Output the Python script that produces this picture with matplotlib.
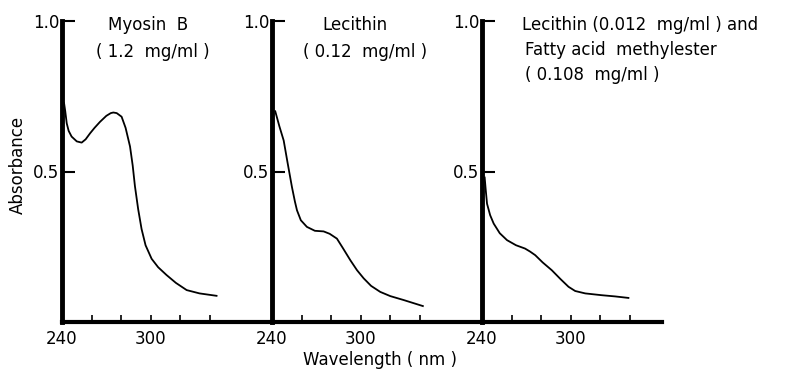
import matplotlib.pyplot as plt

# wavelength (nm) / absorbance
wl_myosin = [241.4, 242.2, 243.2, 244.5, 246.5, 250.0, 253.3, 256.0, 259.0, 262.0, 265.7, 270.0, 273.0, 274.7, 277.0, 280.3,
             283.0, 286.0, 287.8, 289.3, 291.5, 293.8, 296.5, 300.6, 305.0, 310.7, 317.0, 324.3, 333.0, 344.5]
abs_myosin = [0.727, 0.700, 0.660, 0.635, 0.616, 0.600, 0.596, 0.607, 0.627, 0.645, 0.665, 0.685, 0.694, 0.696, 0.694, 0.682,
              0.645, 0.583, 0.520, 0.452, 0.375, 0.309, 0.255, 0.210, 0.182, 0.156, 0.130, 0.106, 0.095, 0.087]

wl_lecithin = [242.2, 245.0, 247.9, 250.5, 253.5, 255.5, 256.9, 259.5, 263.6, 269.0, 274.9, 279.0, 283.9, 288.0, 293.0,
               297.5, 302.0, 307.0, 313.2, 320.0, 329.0, 342.0]
abs_lecithin = [0.700, 0.650, 0.603, 0.530, 0.448, 0.400, 0.371, 0.338, 0.316, 0.303, 0.301, 0.293, 0.277, 0.245, 0.205,
                0.172, 0.145, 0.120, 0.100, 0.086, 0.073, 0.053]

wl_mix = [241.8, 242.5, 243.4, 245.5, 247.9, 252.0, 256.9, 263.0, 269.1, 272.5, 276.0, 281.0, 287.2, 293.0, 298.5, 303.0,
          309.8, 321.0, 330.0, 339.0]
abs_mix = [0.480, 0.440, 0.393, 0.355, 0.327, 0.295, 0.272, 0.255, 0.244, 0.234, 0.222, 0.198, 0.172, 0.143, 0.117, 0.103,
           0.095, 0.089, 0.085, 0.080]

tick_pos = [240, 260, 280, 300, 320, 340]
tick_lab = ["240", "", "", "300", "", ""]

W, H = 787, 370
fig = plt.figure(figsize=(W / 100, H / 100), dpi=100)

panels = [(wl_myosin, abs_myosin), (wl_lecithin, abs_lecithin), (wl_mix, abs_mix)]
lefts = [62, 272, 482]
for i, (x, y) in enumerate(panels):
    ax = fig.add_axes([lefts[i] / W, 48 / H, 210 / W, 301 / H])
    ax.plot(x, y, color='black', lw=1.3)
    ax.set_xlim(240, 382)
    ax.set_ylim(0, 1.0)
    for s in ['top', 'right']:
        ax.spines[s].set_visible(False)
    ax.spines['left'].set_linewidth(3.5)
    ax.spines['bottom'].set_linewidth(3.0)
    if i == 2:
        ax.spines['bottom'].set_bounds(240, 362)
    ax.set_yticks([0.5, 1.0])
    ax.set_yticklabels(['0.5', '1.0'])
    ax.set_xticks(tick_pos)
    ax.set_xticklabels(tick_lab)
    ax.tick_params(axis='y', direction='in', length=9, width=1.5, labelsize=12, pad=2)
    ax.tick_params(axis='x', direction='in', length=5, width=1.2, labelsize=12, pad=6)
    ax.patch.set_visible(False)

fig.text(148 / W, 1 - 25 / H, "Myosin  B", ha='center', va='center', fontsize=12)
fig.text(153 / W, 1 - 52 / H, "( 1.2  mg/ml )", ha='center', va='center', fontsize=12)
fig.text(355 / W, 1 - 25 / H, "Lecithin", ha='center', va='center', fontsize=12)
fig.text(365 / W, 1 - 52 / H, "( 0.12  mg/ml )", ha='center', va='center', fontsize=12)
fig.text(522 / W, 1 - 25 / H, "Lecithin (0.012  mg/ml ) and", ha='left', va='center', fontsize=12)
fig.text(525 / W, 1 - 50 / H, "Fatty acid  methylester", ha='left', va='center', fontsize=12)
fig.text(525 / W, 1 - 75 / H, "( 0.108  mg/ml )", ha='left', va='center', fontsize=12)

fig.text(18 / W, 1 - 165 / H, "Absorbance", rotation=90, ha='center', va='center', fontsize=12)
fig.text(380 / W, 1 - 360 / H, "Wavelength ( nm )", ha='center', va='center', fontsize=12)

fig.savefig("out.png", dpi=100)
